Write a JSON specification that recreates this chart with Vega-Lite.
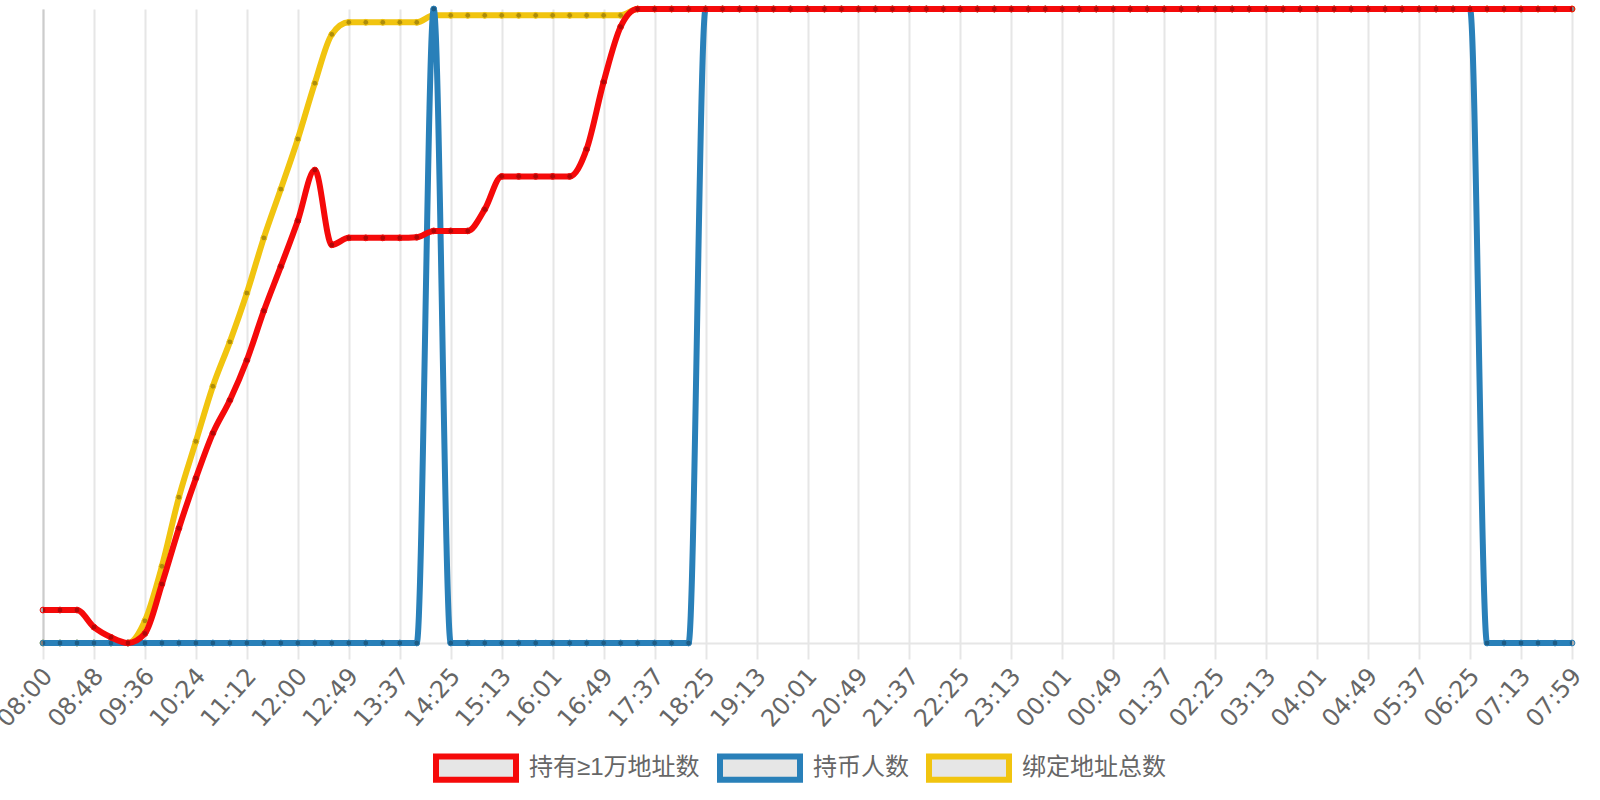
{
  "$schema": "https://vega.github.io/schema/vega-lite/v6.json",
  "width": 1529,
  "height": 634,
  "autosize": {"type": "none"},
  "padding": {"left": 43, "top": 9, "right": 28, "bottom": 157},
  "background": "white",
  "data": {
    "values": [
      {"t": "08:00", "hold10k": 0.052, "holders": 0, "bound": 0},
      {"t": "08:16", "hold10k": 0.052, "holders": 0, "bound": 0},
      {"t": "08:32", "hold10k": 0.052, "holders": 0, "bound": 0},
      {"t": "08:48", "hold10k": 0.025, "holders": 0, "bound": 0},
      {"t": "09:04", "hold10k": 0.009, "holders": 0, "bound": 0},
      {"t": "09:20", "hold10k": 0, "holders": 0, "bound": 0},
      {"t": "09:36", "hold10k": 0.015, "holders": 0, "bound": 0.035},
      {"t": "09:52", "hold10k": 0.093, "holders": 0, "bound": 0.121},
      {"t": "10:08", "hold10k": 0.181, "holders": 0, "bound": 0.23},
      {"t": "10:24", "hold10k": 0.26, "holders": 0, "bound": 0.318},
      {"t": "10:40", "hold10k": 0.331, "holders": 0, "bound": 0.405},
      {"t": "10:56", "hold10k": 0.383, "holders": 0, "bound": 0.475},
      {"t": "11:12", "hold10k": 0.446, "holders": 0, "bound": 0.552},
      {"t": "11:28", "hold10k": 0.524, "holders": 0, "bound": 0.639},
      {"t": "11:44", "hold10k": 0.594, "holders": 0, "bound": 0.716},
      {"t": "12:00", "hold10k": 0.666, "holders": 0, "bound": 0.795},
      {"t": "12:16", "hold10k": 0.746, "holders": 0, "bound": 0.883},
      {"t": "12:32", "hold10k": 0.628, "holders": 0, "bound": 0.96},
      {"t": "12:49", "hold10k": 0.639, "holders": 0, "bound": 0.979},
      {"t": "13:05", "hold10k": 0.639, "holders": 0, "bound": 0.979},
      {"t": "13:21", "hold10k": 0.639, "holders": 0, "bound": 0.979},
      {"t": "13:37", "hold10k": 0.639, "holders": 0, "bound": 0.979},
      {"t": "13:53", "hold10k": 0.64, "holders": 0, "bound": 0.979},
      {"t": "14:09", "hold10k": 0.65, "holders": 1, "bound": 0.99},
      {"t": "14:25", "hold10k": 0.65, "holders": 0, "bound": 0.99},
      {"t": "14:41", "hold10k": 0.65, "holders": 0, "bound": 0.99},
      {"t": "14:57", "hold10k": 0.684, "holders": 0, "bound": 0.99},
      {"t": "15:13", "hold10k": 0.736, "holders": 0, "bound": 0.99},
      {"t": "15:29", "hold10k": 0.736, "holders": 0, "bound": 0.99},
      {"t": "15:45", "hold10k": 0.736, "holders": 0, "bound": 0.99},
      {"t": "16:01", "hold10k": 0.736, "holders": 0, "bound": 0.99},
      {"t": "16:17", "hold10k": 0.736, "holders": 0, "bound": 0.99},
      {"t": "16:33", "hold10k": 0.779, "holders": 0, "bound": 0.99},
      {"t": "16:49", "hold10k": 0.885, "holders": 0, "bound": 0.99},
      {"t": "17:05", "hold10k": 0.972, "holders": 0, "bound": 0.99},
      {"t": "17:21", "hold10k": 1, "holders": 0, "bound": 1},
      {"t": "17:37", "hold10k": 1, "holders": 0, "bound": 1},
      {"t": "17:53", "hold10k": 1, "holders": 0, "bound": 1},
      {"t": "18:09", "hold10k": 1, "holders": 0, "bound": 1},
      {"t": "18:25", "hold10k": 1, "holders": 1, "bound": 1},
      {"t": "18:41", "hold10k": 1, "holders": 1, "bound": 1},
      {"t": "18:57", "hold10k": 1, "holders": 1, "bound": 1},
      {"t": "19:13", "hold10k": 1, "holders": 1, "bound": 1},
      {"t": "19:29", "hold10k": 1, "holders": 1, "bound": 1},
      {"t": "19:45", "hold10k": 1, "holders": 1, "bound": 1},
      {"t": "20:01", "hold10k": 1, "holders": 1, "bound": 1},
      {"t": "20:17", "hold10k": 1, "holders": 1, "bound": 1},
      {"t": "20:33", "hold10k": 1, "holders": 1, "bound": 1},
      {"t": "20:49", "hold10k": 1, "holders": 1, "bound": 1},
      {"t": "21:05", "hold10k": 1, "holders": 1, "bound": 1},
      {"t": "21:21", "hold10k": 1, "holders": 1, "bound": 1},
      {"t": "21:37", "hold10k": 1, "holders": 1, "bound": 1},
      {"t": "21:53", "hold10k": 1, "holders": 1, "bound": 1},
      {"t": "22:09", "hold10k": 1, "holders": 1, "bound": 1},
      {"t": "22:25", "hold10k": 1, "holders": 1, "bound": 1},
      {"t": "22:41", "hold10k": 1, "holders": 1, "bound": 1},
      {"t": "22:57", "hold10k": 1, "holders": 1, "bound": 1},
      {"t": "23:13", "hold10k": 1, "holders": 1, "bound": 1},
      {"t": "23:29", "hold10k": 1, "holders": 1, "bound": 1},
      {"t": "23:45", "hold10k": 1, "holders": 1, "bound": 1},
      {"t": "00:01", "hold10k": 1, "holders": 1, "bound": 1},
      {"t": "00:17", "hold10k": 1, "holders": 1, "bound": 1},
      {"t": "00:33", "hold10k": 1, "holders": 1, "bound": 1},
      {"t": "00:49", "hold10k": 1, "holders": 1, "bound": 1},
      {"t": "01:05", "hold10k": 1, "holders": 1, "bound": 1},
      {"t": "01:21", "hold10k": 1, "holders": 1, "bound": 1},
      {"t": "01:37", "hold10k": 1, "holders": 1, "bound": 1},
      {"t": "01:53", "hold10k": 1, "holders": 1, "bound": 1},
      {"t": "02:09", "hold10k": 1, "holders": 1, "bound": 1},
      {"t": "02:25", "hold10k": 1, "holders": 1, "bound": 1},
      {"t": "02:41", "hold10k": 1, "holders": 1, "bound": 1},
      {"t": "02:57", "hold10k": 1, "holders": 1, "bound": 1},
      {"t": "03:13", "hold10k": 1, "holders": 1, "bound": 1},
      {"t": "03:29", "hold10k": 1, "holders": 1, "bound": 1},
      {"t": "03:45", "hold10k": 1, "holders": 1, "bound": 1},
      {"t": "04:01", "hold10k": 1, "holders": 1, "bound": 1},
      {"t": "04:17", "hold10k": 1, "holders": 1, "bound": 1},
      {"t": "04:33", "hold10k": 1, "holders": 1, "bound": 1},
      {"t": "04:49", "hold10k": 1, "holders": 1, "bound": 1},
      {"t": "05:05", "hold10k": 1, "holders": 1, "bound": 1},
      {"t": "05:21", "hold10k": 1, "holders": 1, "bound": 1},
      {"t": "05:37", "hold10k": 1, "holders": 1, "bound": 1},
      {"t": "05:53", "hold10k": 1, "holders": 1, "bound": 1},
      {"t": "06:09", "hold10k": 1, "holders": 1, "bound": 1},
      {"t": "06:25", "hold10k": 1, "holders": 1, "bound": 1},
      {"t": "06:41", "hold10k": 1, "holders": 0, "bound": 1},
      {"t": "06:57", "hold10k": 1, "holders": 0, "bound": 1},
      {"t": "07:13", "hold10k": 1, "holders": 0, "bound": 1},
      {"t": "07:28", "hold10k": 1, "holders": 0, "bound": 1},
      {"t": "07:44", "hold10k": 1, "holders": 0, "bound": 1},
      {"t": "07:59", "hold10k": 1, "holders": 0, "bound": 1}
    ]
  },
  "encoding": {
    "x": {
      "field": "t",
      "type": "ordinal",
      "sort": null,
      "title": null,
      "scale": {"type": "point", "padding": 0},
      "axis": {
        "values": ["08:00", "08:48", "09:36", "10:24", "11:12", "12:00", "12:49", "13:37", "14:25", "15:13", "16:01", "16:49", "17:37", "18:25", "19:13", "20:01", "20:49", "21:37", "22:25", "23:13", "00:01", "00:49", "01:37", "02:25", "03:13", "04:01", "04:49", "05:37", "06:25", "07:13", "07:59"],
        "labelAngle": -48,
        "labelAlign": "right",
        "labelBaseline": "middle",
        "labelFont": "DejaVu Sans",
        "labelFontSize": 24,
        "labelColor": "#666666",
        "labelPadding": 13,
        "labelOffset": 5,
        "labelOverlap": false,
        "labelBound": false,
        "tickSize": 16,
        "tickWidth": 2,
        "tickColor": "#e6e6e6",
        "grid": true,
        "gridColor": "#e6e6e6",
        "gridWidth": 2,
        "domainColor": "#e6e6e6",
        "domainWidth": 2
      }
    }
  },
  "layer": [
    {
      "mark": {"type": "line", "interpolate": "monotone", "strokeWidth": 6},
      "encoding": {
        "y": {"field": "bound", "type": "quantitative", "title": null, "scale": {"domain": [0, 1], "nice": false}},
        "color": {
          "datum": "绑定地址总数",
          "type": "nominal",
          "scale": {"domain": ["持有≥1万地址数", "持币人数", "绑定地址总数"], "range": ["#f50a0a", "#2980b9", "#f1c40f"]},
          "legend": {
            "title": null,
            "orient": "none",
            "direction": "horizontal",
            "legendX": 390,
            "legendY": 716,
            "padding": 0,
            "symbolType": "M-1,-0.29H1V0.29H-1Z",
            "symbolSize": 6400,
            "symbolStrokeWidth": 6,
            "symbolFillColor": "#e6e6e6",
            "labelFont": "Liberation Sans, Noto Sans CJK SC",
            "labelFontSize": 24,
            "labelColor": "#666666",
            "labelLimit": 500,
            "labelOffset": 10,
            "columnPadding": 8,
            "encode": {"symbols": {"update": {"fill": {"value": "#e6e6e6"}, "strokeWidth": {"value": 6}, "opacity": {"value": 1}}}}
          }
        }
      }
    },
    {
      "mark": {"type": "point", "filled": true, "fill": "rgba(0,0,0,0.28)", "stroke": "#f1c40f", "size": 34, "strokeWidth": 1, "opacity": 1},
      "encoding": {
        "y": {"field": "bound", "type": "quantitative", "title": null}
      }
    },
    {
      "mark": {"type": "line", "interpolate": "monotone", "strokeWidth": 6},
      "encoding": {
        "y": {"field": "holders", "type": "quantitative", "title": null},
        "color": {"datum": "持币人数", "type": "nominal"}
      }
    },
    {
      "mark": {"type": "point", "filled": true, "fill": "rgba(0,0,0,0.28)", "stroke": "#2980b9", "size": 34, "strokeWidth": 1, "opacity": 1},
      "encoding": {
        "y": {"field": "holders", "type": "quantitative", "title": null}
      }
    },
    {
      "mark": {"type": "line", "interpolate": "monotone", "strokeWidth": 6},
      "encoding": {
        "y": {"field": "hold10k", "type": "quantitative", "title": null},
        "color": {"datum": "持有≥1万地址数", "type": "nominal"}
      }
    },
    {
      "mark": {"type": "point", "filled": true, "fill": "rgba(0,0,0,0.28)", "stroke": "#f50a0a", "size": 34, "strokeWidth": 1, "opacity": 1},
      "encoding": {
        "y": {"field": "hold10k", "type": "quantitative", "title": null}
      }
    }
  ],
  "config": {
    "view": {"stroke": null},
    "axisY": {"labels": false, "ticks": false, "grid": false, "domain": true, "domainColor": "#cccccc", "domainWidth": 2}
  }
}
